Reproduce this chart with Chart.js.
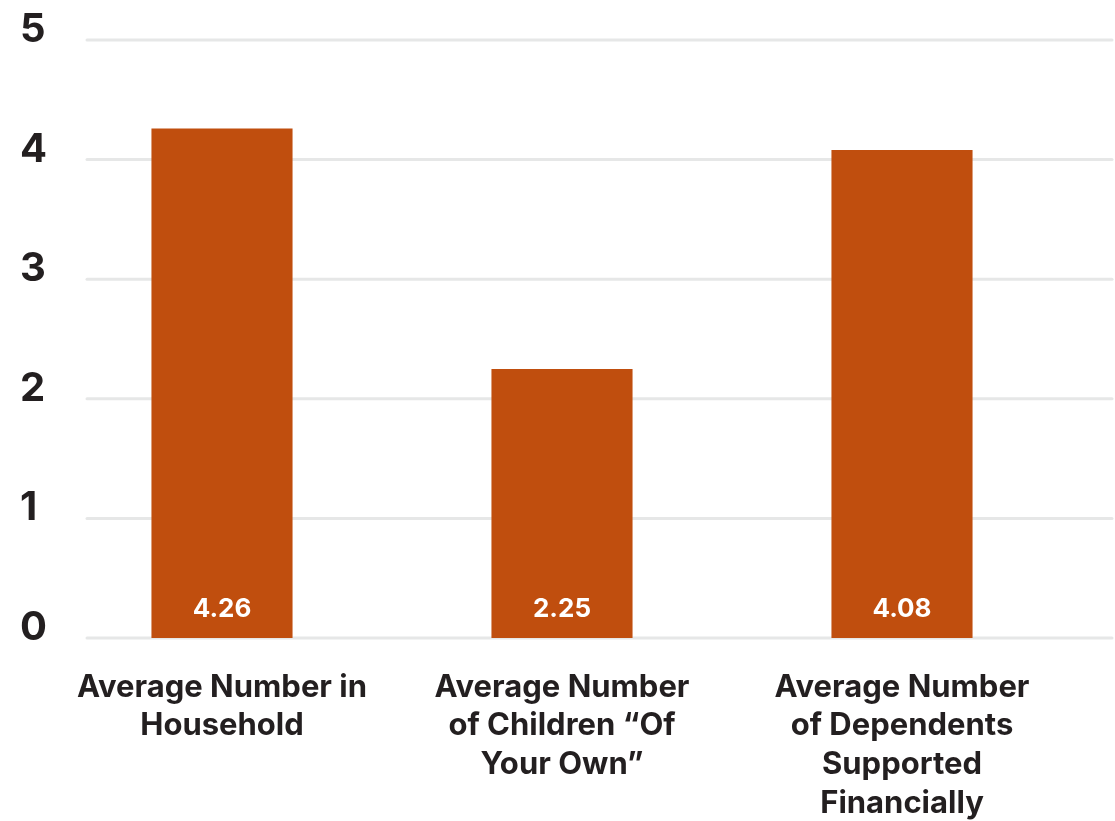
<!DOCTYPE html>
<html>
<head>
<meta charset="utf-8">
<script src="https://cdn.jsdelivr.net/npm/chart.js@4"></script>
<style>
  html, body { margin: 0; padding: 0; background: #ffffff; }
  #wrap { width: 1115px; height: 821px; }
</style>
</head>
<body>
<div id="wrap"><canvas id="c" width="1115" height="821"></canvas></div>
<script>
// Household survey averages
const categories = [
  ["Average Number in", "Household"],
  ["Average Number", "of Children \u201cOf", "Your Own\u201d"],
  ["Average Number", "of Dependents", "Supported", "Financially"]
];
const values = [4.26, 2.25, 4.08];
const yTicks = [0, 1, 2, 3, 4, 5];

const FONT = "Inter, 'Noto Sans', sans-serif";
const INK = "#231f20";
const BAR = "#c04e0e";
const GRID = "#e6e7e7";

// Horizontal guide lines, drawn wider than the plot area
const guideLines = {
  id: "guideLines",
  beforeDatasetsDraw(chart) {
    const y = chart.scales.y;
    const ctx = chart.ctx;
    ctx.save();
    ctx.strokeStyle = GRID;
    ctx.lineWidth = 3;
    ctx.lineCap = "round";
    y.ticks.forEach(t => {
      const py = y.getPixelForValue(t.value);
      ctx.beginPath();
      ctx.moveTo(87, py);
      ctx.lineTo(1112, py);
      ctx.stroke();
    });
    ctx.restore();
  }
};

// Value labels sitting near the base of each bar
const baseLabels = {
  id: "baseLabels",
  afterDatasetsDraw(chart) {
    const ctx = chart.ctx;
    const meta = chart.getDatasetMeta(0);
    ctx.save();
    ctx.fillStyle = "#ffffff";
    ctx.font = "700 26px " + FONT;
    ctx.textAlign = "center";
    ctx.textBaseline = "middle";
    meta.data.forEach((bar, i) => {
      ctx.fillText(values[i].toFixed(2), bar.x, bar.base - 29);
    });
    ctx.restore();
  }
};

new Chart(document.getElementById("c"), {
  type: "bar",
  data: {
    labels: categories,
    datasets: [{
      data: values,
      backgroundColor: BAR,
      borderWidth: 0,
      barPercentage: 0.415,
      categoryPercentage: 1
    }]
  },
  options: {
    responsive: false,
    animation: false,
    devicePixelRatio: 1,
    layout: { padding: { left: 20, top: 40, right: 43, bottom: 0 } },
    plugins: {
      legend: { display: false },
      tooltip: { enabled: false }
    },
    scales: {
      x: {
        offset: true,
        grid: { display: false, drawTicks: false },
        border: { display: false },
        ticks: {
          color: INK,
          padding: 30,
          maxRotation: 0,
          autoSkip: false,
          font: { family: FONT, weight: "700", size: 31, lineHeight: 1.25 }
        },
        afterFit(s) { s.height = 183; }
      },
      y: {
        min: 0,
        max: 5,
        grid: { display: false, drawTicks: false },
        border: { display: false },
        afterBuildTicks(s) { s.ticks = yTicks.map(v => ({ value: v })); },
        ticks: {
          color: INK,
          crossAlign: "far",
          labelOffset: -10,
          padding: 0,
          font: { family: FONT, weight: "700", size: 40 }
        },
        afterFit(s) { s.width = 32; }
      }
    }
  },
  plugins: [guideLines, baseLabels]
});
</script>
</body>
</html>
